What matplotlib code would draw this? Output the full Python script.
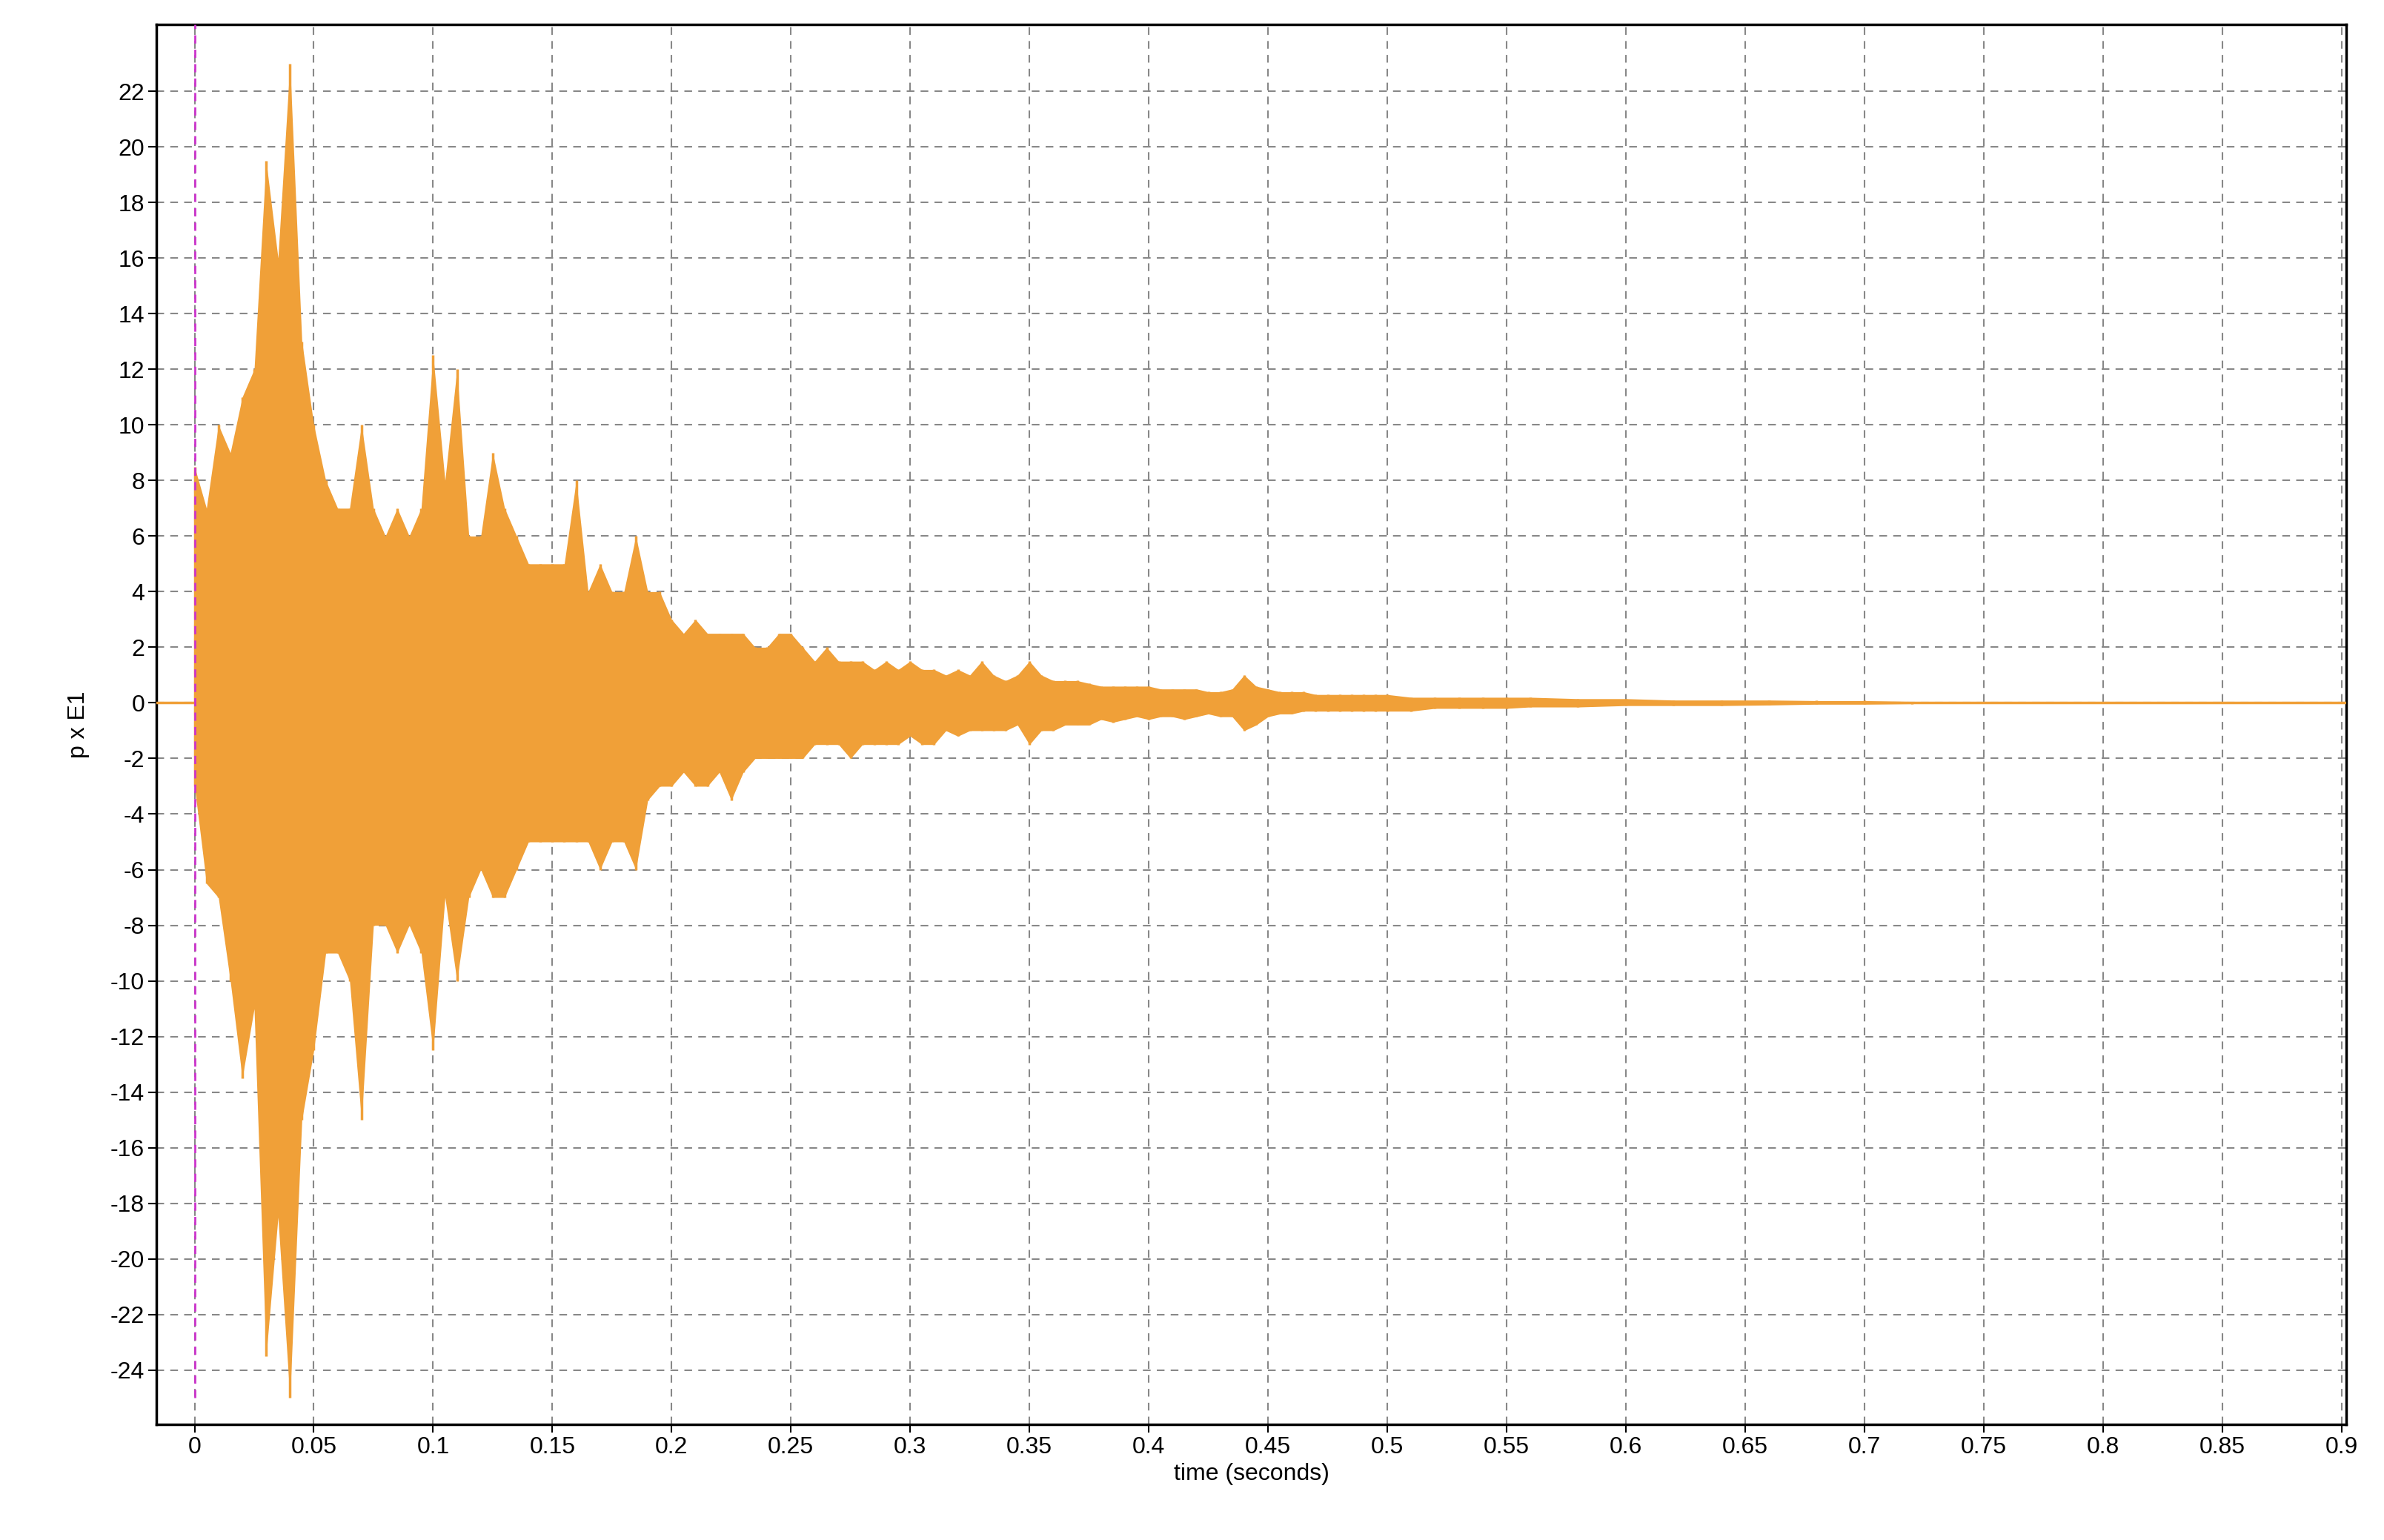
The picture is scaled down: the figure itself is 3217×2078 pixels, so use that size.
import matplotlib
matplotlib.use("Agg")
import matplotlib.pyplot as plt
import numpy as np

plt.rcParams['font.family'] = ['Liberation Sans', 'DejaVu Sans']
plt.rcParams['axes.unicode_minus'] = False

t = [0.000,0.005,0.010,0.015,0.020,0.025,0.030,0.035,0.040,0.045,0.050,0.055,0.060,0.065,0.070,0.075,0.080,0.085,0.090,0.095,
     0.100,0.105,0.110,0.115,0.120,0.125,0.130,0.135,0.140,0.145,0.150,0.155,0.160,0.165,0.170,0.175,0.180,0.185,0.190,0.195,
     0.200,0.205,0.210,0.215,0.220,0.225,0.230,0.235,0.240,0.245,0.250,0.255,0.260,0.265,0.270,0.275,0.280,0.285,0.290,0.295,
     0.300,0.305,0.310,0.315,0.320,0.325,0.330,0.335,0.340,0.345,0.350,0.355,0.360,0.365,0.370,0.375,0.380,0.385,0.390,0.395,
     0.400,0.405,0.410,0.415,0.420,0.425,0.430,0.435,0.440,0.445,0.450,0.455,0.460,0.465,0.470,0.475,0.480,0.485,0.490,0.495,
     0.500,0.510,0.520,0.530,0.540,0.550,0.560,0.580,0.600,0.620,0.640,0.660,0.680,0.700,0.720,0.730,0.750]
upper = [8.5,7,10,9,11,12,19.5,16,23,13,10,8,7,7,10,7,6,7,6,7,
         12.5,8,12,6,6,9,7,6,5,5,5,5,8,4,5,4,4,6,4,4,
         3,2.5,3,2.5,2.5,2.5,2.5,2,2,2.5,2.5,2,1.5,2,1.5,1.5,1.5,1.2,1.5,1.2,
         1.5,1.2,1.2,1,1.2,1,1.5,1,0.8,1,1.5,1,0.8,0.8,0.8,0.7,0.6,0.6,0.6,0.6,
         0.6,0.5,0.5,0.5,0.5,0.4,0.4,0.5,1,0.6,0.5,0.4,0.4,0.4,0.3,0.3,0.3,0.3,0.3,0.3,
         0.3,0.2,0.2,0.2,0.2,0.2,0.2,0.15,0.15,0.1,0.1,0.1,0.08,0.08,0.05,0.05,0]
lower = [-3,-6.5,-7,-10,-13.5,-11,-23.5,-18.5,-25,-15,-12.5,-9,-9,-10,-15,-8,-8,-9,-8,-9,
         -12.5,-7,-10,-7,-6,-7,-7,-6,-5,-5,-5,-5,-5,-5,-6,-5,-5,-6,-3.5,-3,
         -3,-2.5,-3,-3,-2.5,-3.5,-2.5,-2,-2,-2,-2,-2,-1.5,-1.5,-1.5,-2,-1.5,-1.5,-1.5,-1.5,
         -1.2,-1.5,-1.5,-1,-1.2,-1,-1,-1,-1,-0.8,-1.5,-1,-1,-0.8,-0.8,-0.8,-0.6,-0.7,-0.6,-0.5,
         -0.6,-0.5,-0.5,-0.6,-0.5,-0.4,-0.5,-0.5,-1,-0.8,-0.5,-0.4,-0.4,-0.3,-0.3,-0.3,-0.3,-0.3,-0.3,-0.3,
         -0.3,-0.3,-0.2,-0.2,-0.2,-0.2,-0.15,-0.15,-0.1,-0.1,-0.1,-0.08,-0.05,-0.05,-0.03,0,0]

xticks = [0,0.05,0.1,0.15,0.2,0.25,0.3,0.35,0.4,0.45,0.5,0.55,0.6,0.65,0.7,0.75,0.8,0.85,0.9]
xticklabels = ["0","0.05","0.1","0.15","0.2","0.25","0.3","0.35","0.4","0.45","0.5","0.55","0.6","0.65","0.7","0.75","0.8","0.85","0.9"]
yticks = list(range(-24, 23, 2))

color = "#F0A038"
fig = plt.figure(figsize=(32.17, 20.78), dpi=100)
ax = fig.add_axes([211/3217, 1-1922/2078, (3166-211)/3217, (1922-33)/2078])
ax.set_xlim(-0.016, 0.902)
ax.set_ylim(-25.95, 24.4)

ax.plot([-0.016, 0.902], [0, 0], color=color, lw=2.5, zorder=3)
ax.fill_between(t, lower, upper, color=color, lw=0, zorder=3)
ax.vlines(t, lower, upper, color=color, lw=2.5, zorder=3)
ax.plot([0, 0], [-25, 24.4], color="#CC33CC", lw=2, ls=(0, (4, 3)), zorder=4)

ax.set_xticks(xticks)
ax.set_xticklabels(xticklabels)
ax.set_yticks(yticks)
ax.grid(True, color="#888888", ls=(0, (5, 4)), lw=1.5)
ax.tick_params(labelsize=23, length=8, width=1.5, direction="out")
for s in ax.spines.values():
    s.set_linewidth(2.5)
ax.set_xlabel("time (seconds)", fontsize=23)
ax.set_ylabel("p x E1", fontsize=23, labelpad=20)
fig.savefig("out.png", dpi=100)
